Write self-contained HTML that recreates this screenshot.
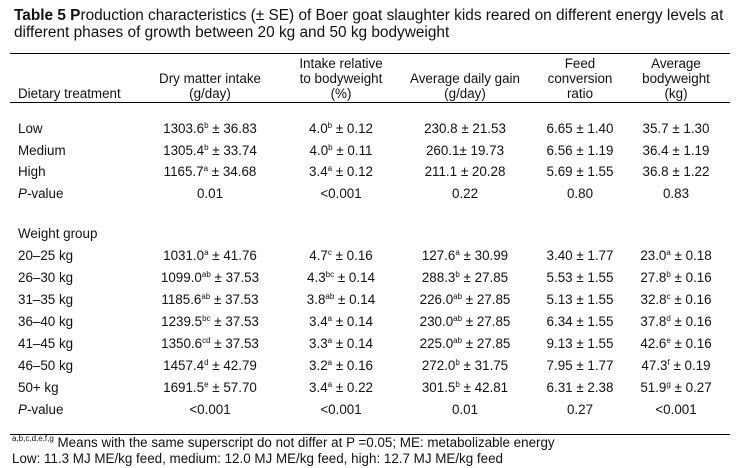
<!DOCTYPE html>
<html><head><meta charset="utf-8"><style>
body{margin:0;width:740px;height:468px;background:#fff;position:relative;overflow:hidden;font-family:"Liberation Sans",Arial,sans-serif;color:#111}
.t{position:absolute;white-space:nowrap;font-size:13.4px;line-height:15px}
.c{transform:translateX(-50%);text-align:center}
.rule{position:absolute;left:10px;width:720px;height:1px;background:#000}
sup{font-size:8px;vertical-align:5px;line-height:0}
.title{position:absolute;left:14px;font-size:15.4px;line-height:17px;white-space:nowrap}
</style></head><body>
<div class="title" style="top:7px"><b>Table 5 P</b>roduction characteristics (± SE) of Boer goat slaughter kids reared on different energy levels at</div>
<div class="title" style="top:24px">different phases of growth between 20 kg and 50 kg bodyweight</div>
<div class="rule" style="top:53px"></div>
<div class="rule" style="top:102px"></div>
<div class="rule" style="top:434px"></div>
<div class="t" style="left:18px;top:86px">Dietary treatment</div>
<div class="t c" style="left:210px;top:71px">Dry matter intake<br>(g/day)</div>
<div class="t c" style="left:341px;top:56px">Intake relative<br>to bodyweight<br>(%)</div>
<div class="t c" style="left:465px;top:71px">Average daily gain<br>(g/day)</div>
<div class="t c" style="left:580px;top:56px">Feed<br>conversion<br>ratio</div>
<div class="t c" style="left:676px;top:56px">Average<br>bodyweight<br>(kg)</div>
<div id="rows"></div>
<div class="t" style="left:12px;top:431px"><span style="font-size:8px;vertical-align:6px">a,b,c,d,e,f,g</span> Means with the same superscript do not differ at P =0.05; ME: metabolizable energy</div>
<div class="t" style="left:12px;top:451px">Low: 11.3 MJ ME/kg feed, medium: 12.0 MJ ME/kg feed, high: 12.7 MJ ME/kg feed</div>
<script>
const cols=[210,341,465,580,676];
const rows=[
[121,"Low",["1303.6<sup>b</sup> ± 36.83","4.0<sup>b</sup> ± 0.12","230.8 ± 21.53","6.65 ± 1.40","35.7 ± 1.30"]],
[143,"Medium",["1305.4<sup>b</sup> ± 33.74","4.0<sup>b</sup> ± 0.11","260.1± 19.73","6.56 ± 1.19","36.4 ± 1.19"]],
[164,"High",["1165.7<sup>a</sup> ± 34.68","3.4<sup>a</sup> ± 0.12","211.1 ± 20.28","5.69 ± 1.55","36.8 ± 1.22"]],
[186,"<i>P</i>-value",["0.01","&lt;0.001","0.22","0.80","0.83"]],
[226,"Weight group",[]],
[248,"20–25 kg",["1031.0<sup>a</sup> ± 41.76","4.7<sup>c</sup> ± 0.16","127.6<sup>a</sup> ± 30.99","3.40 ± 1.77","23.0<sup>a</sup> ± 0.18"]],
[270,"26–30 kg",["1099.0<sup>ab</sup> ± 37.53","4.3<sup>bc</sup> ± 0.14","288.3<sup>b</sup> ± 27.85","5.53 ± 1.55","27.8<sup>b</sup> ± 0.16"]],
[292,"31–35 kg",["1185.6<sup>ab</sup> ± 37.53","3.8<sup>ab</sup> ± 0.14","226.0<sup>ab</sup> ± 27.85","5.13 ± 1.55","32.8<sup>c</sup> ± 0.16"]],
[314,"36–40 kg",["1239.5<sup>bc</sup> ± 37.53","3.4<sup>a</sup> ± 0.14","230.0<sup>ab</sup> ± 27.85","6.34 ± 1.55","37.8<sup>d</sup> ± 0.16"]],
[336,"41–45 kg",["1350.6<sup>cd</sup> ± 37.53","3.3<sup>a</sup> ± 0.14","225.0<sup>ab</sup> ± 27.85","9.13 ± 1.55","42.6<sup>e</sup> ± 0.16"]],
[358,"46–50 kg",["1457.4<sup>d</sup> ± 42.79","3.2<sup>a</sup> ± 0.16","272.0<sup>b</sup> ± 31.75","7.95 ± 1.77","47.3<sup>f</sup> ± 0.19"]],
[380,"50+ kg",["1691.5<sup>e</sup> ± 57.70","3.4<sup>a</sup> ± 0.22","301.5<sup>b</sup> ± 42.81","6.31 ± 2.38","51.9<sup>g</sup> ± 0.27"]],
[402,"<i>P</i>-value",["&lt;0.001","&lt;0.001","0.01","0.27","&lt;0.001"]]
];
const host=document.getElementById('rows');
rows.forEach(([y,label,vals],i)=>{
  const l=document.createElement('div');
  l.className='t';l.style.left='18px';l.style.top=y+'px';l.innerHTML=label;
  
  
  host.appendChild(l);
  vals.forEach((v,j)=>{
    const d=document.createElement('div');
    d.className='t c';d.style.left=cols[j]+'px';d.style.top=y+'px';d.innerHTML=v;
    
    
    host.appendChild(d);
  });
});
</script>
</body></html>
